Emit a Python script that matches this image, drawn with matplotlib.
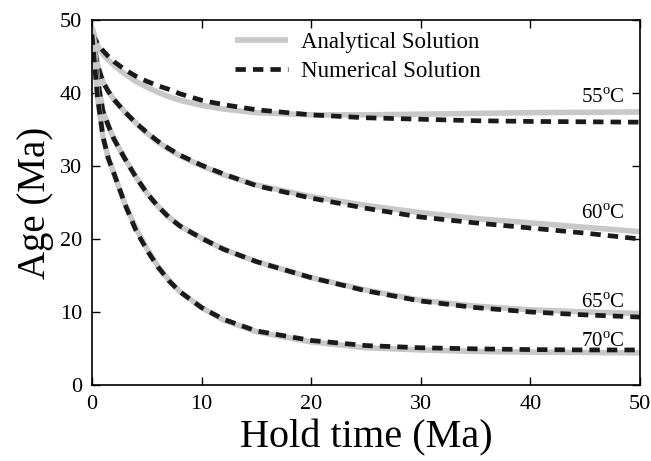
import matplotlib.pyplot as plt

plt.rcParams['font.family'] = ['Liberation Serif', 'DejaVu Serif']
plt.rcParams['mathtext.fontset'] = 'custom'
plt.rcParams['mathtext.rm'] = 'Liberation Serif'

# hold time (Ma)
t = [0, 0.5, 1, 1.5, 2, 3, 4, 5, 6, 7, 8, 10, 12, 15, 20, 25, 30, 35, 40, 45, 50]

# analytical ages (Ma)
ana_55 = [49, 46.5, 45.3, 44.5, 43.8, 42.6, 41.6, 40.8, 40.1, 39.5, 39.0, 38.3, 37.8,
          37.3, 37.0, 37.0, 37.1, 37.2, 37.3, 37.35, 37.4]
ana_60 = [49, 44.0, 41.5, 40.2, 39.1, 37.4, 35.9, 34.5, 33.3, 32.3, 31.4, 30.0, 28.8,
          27.4, 25.8, 24.6, 23.6, 22.8, 22.2, 21.6, 21.0]
ana_65 = [49, 42.0, 37.5, 35.5, 33.7, 31.0, 28.5, 26.3, 24.5, 23.0, 21.8, 20.1, 18.6,
          16.9, 14.7, 13.0, 11.6, 10.8, 10.3, 10.0, 9.8]
ana_70 = [49, 39.5, 34.0, 31.0, 29.0, 24.8, 21.5, 18.7, 16.3, 14.4, 12.8, 10.6, 8.9,
          7.3, 5.9, 5.1, 4.8, 4.6, 4.5, 4.45, 4.4]

# numerical ages (Ma)
num_55 = [48, 46.8, 45.8, 45.0, 44.3, 43.2, 42.3, 41.6, 41.0, 40.5, 39.9, 39.0, 38.4,
          37.7, 37.0, 36.6, 36.4, 36.2, 36.1, 36.05, 36.0]
num_60 = [48, 43.8, 41.5, 40.2, 39.1, 37.4, 35.9, 34.6, 33.4, 32.4, 31.5, 30.1, 28.9,
          27.3, 25.6, 24.2, 23.0, 22.2, 21.5, 20.8, 20.0]
num_65 = [48, 41.8, 37.5, 35.5, 33.7, 31.0, 28.5, 26.3, 24.5, 23.0, 21.8, 20.1, 18.6,
          16.9, 14.7, 12.9, 11.5, 10.6, 10.0, 9.6, 9.3]
num_70 = [48, 39.5, 34.0, 31.0, 29.0, 24.8, 21.2, 18.5, 16.2, 14.3, 12.8, 10.6, 9.0,
          7.4, 6.1, 5.4, 5.1, 4.95, 4.85, 4.8, 4.8]

labels = ['55$^{\\mathrm{o}}$C', '60$^{\\mathrm{o}}$C', '65$^{\\mathrm{o}}$C', '70$^{\\mathrm{o}}$C']
label_y = [38.6, 22.7, 10.5, 5.2]

fig = plt.figure(figsize=(6.51, 4.61), dpi=100)
ax = fig.add_axes([0.1413, 0.1649, 0.8418, 0.7918])

gray = '#c8c8c8'
for i, (a, n) in enumerate(zip([ana_55, ana_60, ana_65, ana_70],
                               [num_55, num_60, num_65, num_70])):
    ax.plot(t, a, color=gray, lw=4, solid_capstyle='butt',
            label='Analytical Solution' if i == 0 else None)
    ax.plot(t, n, color='#1a1a1a', lw=3.4, dashes=(2.2, 1.5),
            label='Numerical Solution' if i == 0 else None)

for lab, y in zip(labels, label_y):
    ax.text(48.6, y, lab, ha='right', va='baseline', fontsize=15)

ax.set_xlim(0, 50)
ax.set_ylim(0, 50)
ax.set_xticks([0, 10, 20, 30, 40, 50])
ax.set_yticks([0, 10, 20, 30, 40, 50])
ax.tick_params(direction='in', length=6, width=1, top=True, right=True,
               labelsize=16, pad=7)
for s in ax.spines.values():
    s.set_linewidth(1.2)

ax.set_xlabel('Hold time (Ma)', fontsize=29, labelpad=4)
ax.set_ylabel('Age (Ma)', fontsize=28, labelpad=4)

ax.legend(loc='upper left', bbox_to_anchor=(0.261, 0.968), frameon=False,
          fontsize=16.5, handlelength=2.3, handletextpad=0.6, labelspacing=0.35,
          borderpad=0, borderaxespad=0)

fig.savefig('out.png', dpi=100)
